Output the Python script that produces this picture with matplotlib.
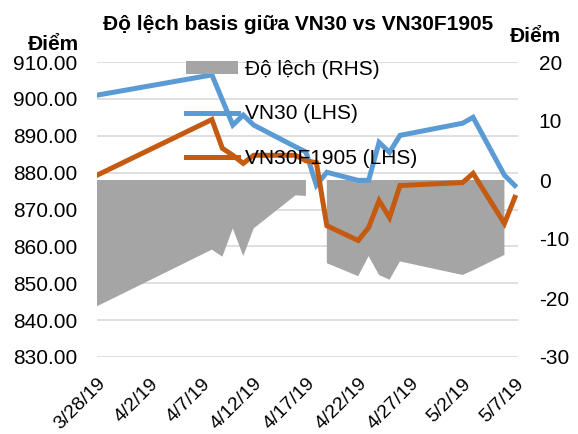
import matplotlib
matplotlib.use("Agg")
import matplotlib.pyplot as plt
from matplotlib.patches import Patch
from matplotlib.lines import Line2D
import numpy as np
from datetime import datetime, timedelta

# Trading days shown on the chart
dates = [
    "2019-03-28", "2019-04-08", "2019-04-09", "2019-04-10", "2019-04-11",
    "2019-04-12", "2019-04-16", "2019-04-17", "2019-04-18", "2019-04-19",
    "2019-04-22", "2019-04-23", "2019-04-24", "2019-04-25", "2019-04-26",
    "2019-05-02", "2019-05-03", "2019-05-06", "2019-05-07",
]

# VN30 index (left axis)
vn30 = [901.0, 906.5, 899.7, 892.9, 895.6, 892.9, 887.0, 885.6, 876.6,
        880.1, 877.9, 877.9, 888.2, 885.5, 890.1, 893.4, 895.0, 879.3,
        876.5]

# VN30F1905 futures (left axis)
vn30f = [879.3, 894.4, 886.6, 884.7, 882.5, 884.7, 884.7, 883.2, 882.7,
         865.6, 861.6, 865.1, 872.4, 867.8, 876.5, 877.3, 879.8, 866.2,
         873.3]

# Basis deviation (right axis), nan = no value on that day
deviation = [-21.4, -11.8, -13.0, -8.2, -12.9, -8.2, -2.6, -2.7, np.nan,
             -14.1, -16.3, -12.9, -16.1, -16.9, -13.8, -16.1, -15.3, -12.7,
             np.nan]

tick_dates = ["2019-03-28", "2019-04-02", "2019-04-07", "2019-04-12",
              "2019-04-17", "2019-04-22", "2019-04-27", "2019-05-02",
              "2019-05-07"]
tick_labels = ["3/28/19", "4/2/19", "4/7/19", "4/12/19", "4/17/19",
               "4/22/19", "4/27/19", "5/2/19", "5/7/19"]

left_ticks = [830, 840, 850, 860, 870, 880, 890, 900, 910]
right_ticks = [-30, -20, -10, 0, 10, 20]

title = "Độ lệch basis giữa VN30 vs VN30F1905"
labels = ["Độ lệch (RHS)", "VN30 (LHS)", "VN30F1905 (LHS)"]

BLUE = "#5B9BD5"
ORANGE = "#C55A11"
GRAY = "#A5A5A5"


def main():
    plt.rcParams["font.family"] = ["Liberation Sans", "DejaVu Sans"]
    plt.rcParams["axes.unicode_minus"] = False
    fs = 15

    x = [datetime.strptime(d, "%Y-%m-%d") for d in dates]
    xt = [datetime.strptime(d, "%Y-%m-%d") for d in tick_dates]

    fig = plt.figure(figsize=(5.78, 4.34), dpi=100)
    W, H = 578, 434
    ax1 = fig.add_axes([97 / W, 1 - 357 / H, 421 / W, 295 / H])

    # back axes: grid + left ticks
    ax1.set_ylim(830, 910)
    ax1.set_yticks(left_ticks)
    ax1.set_yticklabels([f"{v:.2f}" for v in left_ticks])
    ax1.yaxis.grid(True, color="#D9D9D9", linewidth=1.2)
    ax1.set_xlim(x[0], x[0] + timedelta(days=40.3))
    ax1.set_xticks(xt)
    ax1.set_xticklabels(tick_labels, rotation=45, ha="right",
                        rotation_mode="anchor")
    ax1.tick_params(axis="y", length=0, pad=14, labelsize=fs)
    ax1.tick_params(axis="x", length=0, pad=13, labelsize=14)
    for s in ax1.spines.values():
        s.set_visible(False)

    # middle axes: deviation area
    ax2 = ax1.twinx()
    ax2.fill_between(x, deviation, 0, color=GRAY, linewidth=0)
    ax2.set_ylim(-30, 20)
    ax2.set_yticks(right_ticks)
    ax2.tick_params(axis="y", length=0, pad=15, labelsize=fs)
    for s in ax2.spines.values():
        s.set_visible(False)

    # front axes: the two lines
    ax3 = ax1.twinx()
    ax3.sharey(ax1)
    ax3.plot(x, vn30, color=BLUE, linewidth=3.6, solid_joinstyle="miter")
    ax3.plot(x, vn30f, color=ORANGE, linewidth=3.6, solid_joinstyle="miter")
    ax3.tick_params(axis="y", which="both", left=False, right=False,
                    labelleft=False, labelright=False)
    for s in ax3.spines.values():
        s.set_visible(False)

    handles = [
        Patch(facecolor=GRAY, edgecolor="none"),
        Line2D([], [], color=BLUE, linewidth=3.6),
        Line2D([], [], color=ORANGE, linewidth=3.6),
    ]
    ax3.legend(handles, labels, loc="upper left",
               bbox_to_anchor=(186 / W, 1 - 60 / H),
               bbox_transform=fig.transFigure, frameon=False, fontsize=fs,
               handlelength=2.5, handleheight=0.55, handletextpad=0.35,
               labelspacing=1.22, borderpad=0, borderaxespad=0)

    fig.text(298 / W, 1 - 25 / H, title, ha="center", va="center",
             fontsize=fs, fontweight="bold")
    fig.text(53 / W, 1 - 45 / H, "Điểm", ha="center", va="center",
             fontsize=fs, fontweight="bold")
    fig.text(535 / W, 1 - 36 / H, "Điểm", ha="center", va="center",
             fontsize=fs, fontweight="bold")

    fig.savefig("out.png", dpi=100)


if __name__ == "__main__":
    main()
